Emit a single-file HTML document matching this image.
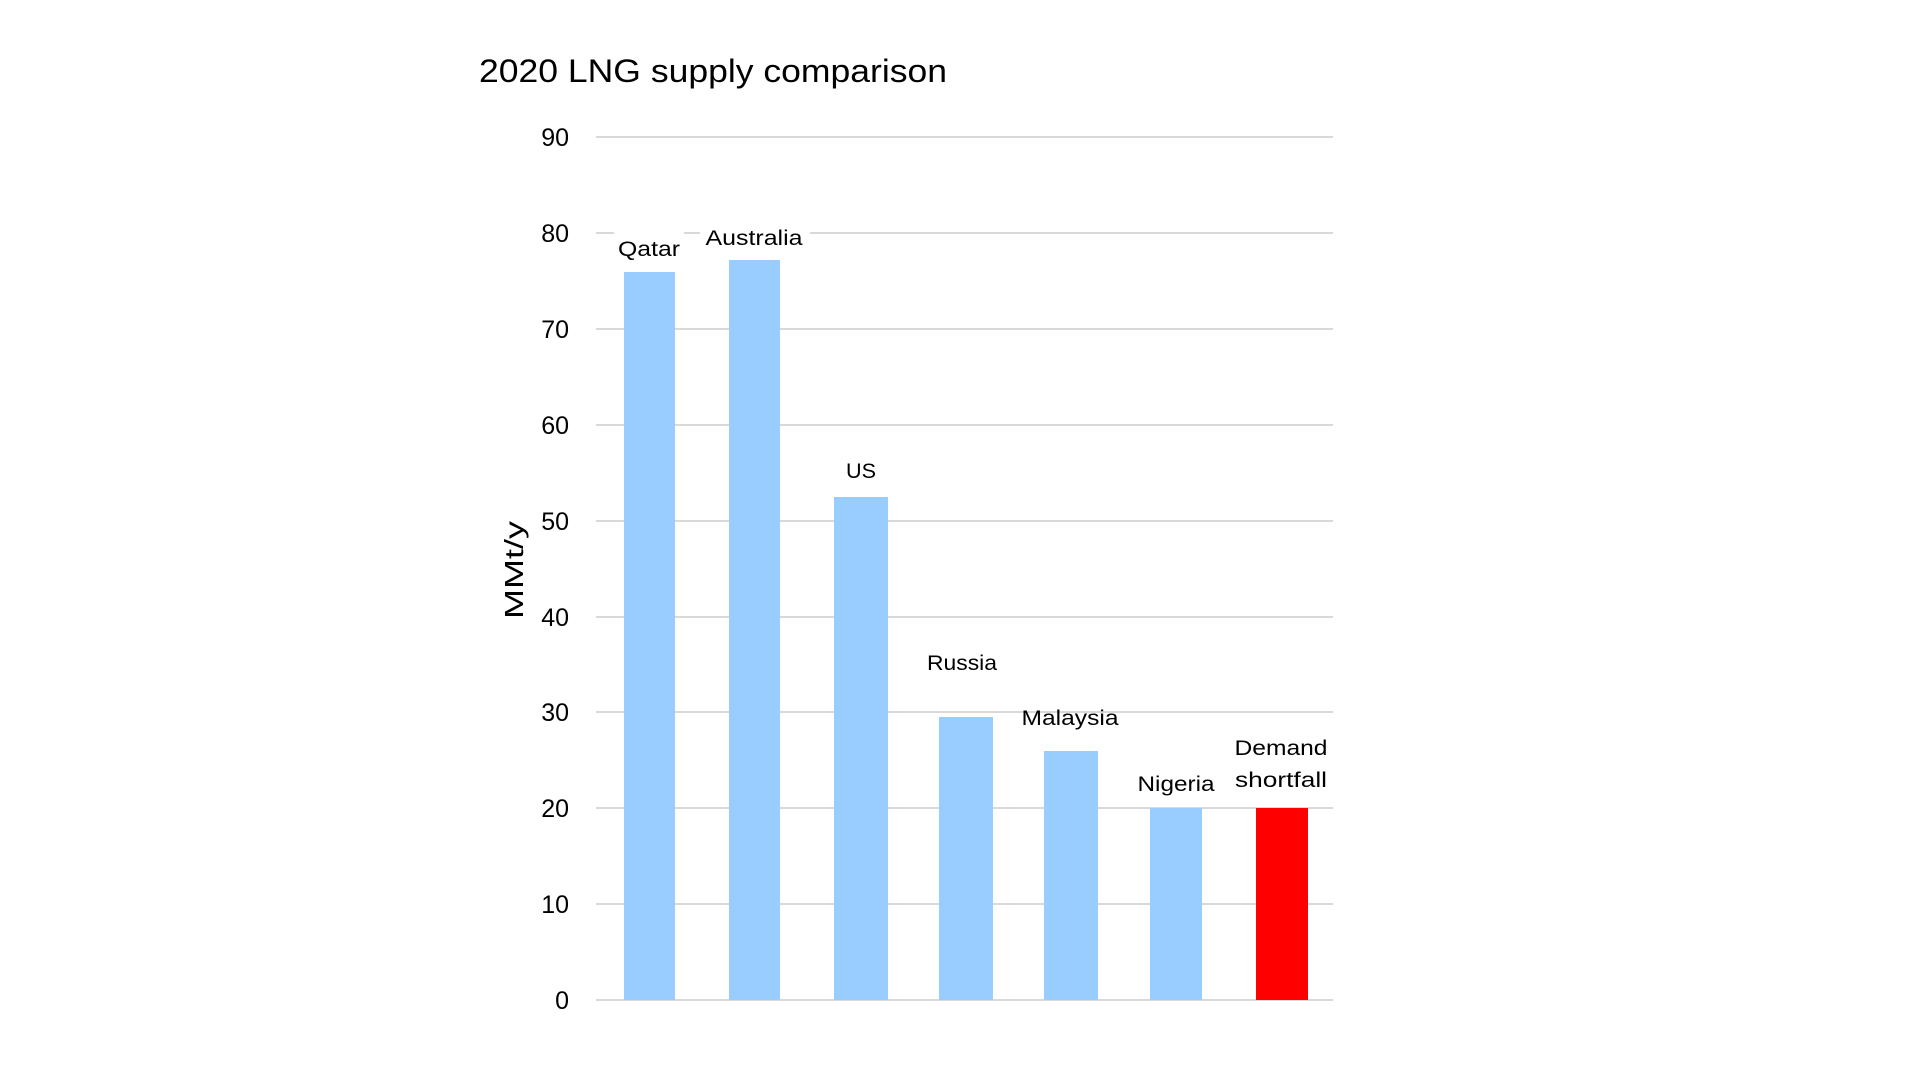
<!DOCTYPE html>
<html><head><meta charset="utf-8"><style>
body{margin:0;background:#fff;width:1920px;height:1080px;overflow:hidden}
svg text{font-family:"Liberation Sans",sans-serif;fill:#000}
</style></head><body>
<svg width="1920" height="1080" xmlns="http://www.w3.org/2000/svg">
<text x="479" y="82" font-size="32" fill="#222" textLength="468" lengthAdjust="spacingAndGlyphs">2020 LNG supply comparison</text>
<g stroke="#d9d9d9" stroke-width="2">
<line x1="596" x2="1333" y1="137" y2="137"/>
<line x1="596" x2="1333" y1="233" y2="233"/>
<line x1="596" x2="1333" y1="329" y2="329"/>
<line x1="596" x2="1333" y1="425" y2="425"/>
<line x1="596" x2="1333" y1="521" y2="521"/>
<line x1="596" x2="1333" y1="617" y2="617"/>
<line x1="596" x2="1333" y1="712" y2="712"/>
<line x1="596" x2="1333" y1="808" y2="808"/>
<line x1="596" x2="1333" y1="904" y2="904"/>
<line x1="596" x2="1333" y1="1000" y2="1000"/>
</g>
<g font-size="25" text-anchor="end">
<text x="569" y="146">90</text><text x="569" y="242">80</text><text x="569" y="338">70</text>
<text x="569" y="434">60</text><text x="569" y="530">50</text><text x="569" y="626">40</text>
<text x="569" y="721">30</text><text x="569" y="817">20</text><text x="569" y="913">10</text>
<text x="569" y="1009">0</text>
</g>
<text transform="translate(523,570) rotate(-90)" font-size="26" text-anchor="middle" textLength="98" lengthAdjust="spacingAndGlyphs">MMt/y</text>
<g fill="#99ccff">
<rect x="624" y="272" width="51" height="728"/>
<rect x="729" y="260" width="51" height="740"/>
<rect x="834" y="497" width="54" height="503"/>
<rect x="939" y="717" width="54" height="283"/>
<rect x="1044" y="751" width="54" height="249"/>
<rect x="1150" y="808" width="52" height="192"/>
</g>
<rect x="1256" y="808" width="52" height="192" fill="#ff0000"/>
<g fill="#fff">
<rect x="614" y="226" width="70" height="28"/>
<rect x="700" y="218" width="110" height="28"/>
</g>
<g font-size="21" text-anchor="middle">
<text x="649" y="256" textLength="62" lengthAdjust="spacingAndGlyphs">Qatar</text>
<text x="754" y="245" textLength="97" lengthAdjust="spacingAndGlyphs">Australia</text>
<text x="861" y="478" textLength="30" lengthAdjust="spacingAndGlyphs">US</text>
<text x="962" y="670" textLength="70" lengthAdjust="spacingAndGlyphs">Russia</text>
<text x="1070" y="725" textLength="97" lengthAdjust="spacingAndGlyphs">Malaysia</text>
<text x="1176" y="791" textLength="77" lengthAdjust="spacingAndGlyphs">Nigeria</text>
<text x="1281" y="755" textLength="93" lengthAdjust="spacingAndGlyphs">Demand</text>
<text x="1281" y="787" textLength="92" lengthAdjust="spacingAndGlyphs">shortfall</text>
</g>
</svg>
</body></html>
